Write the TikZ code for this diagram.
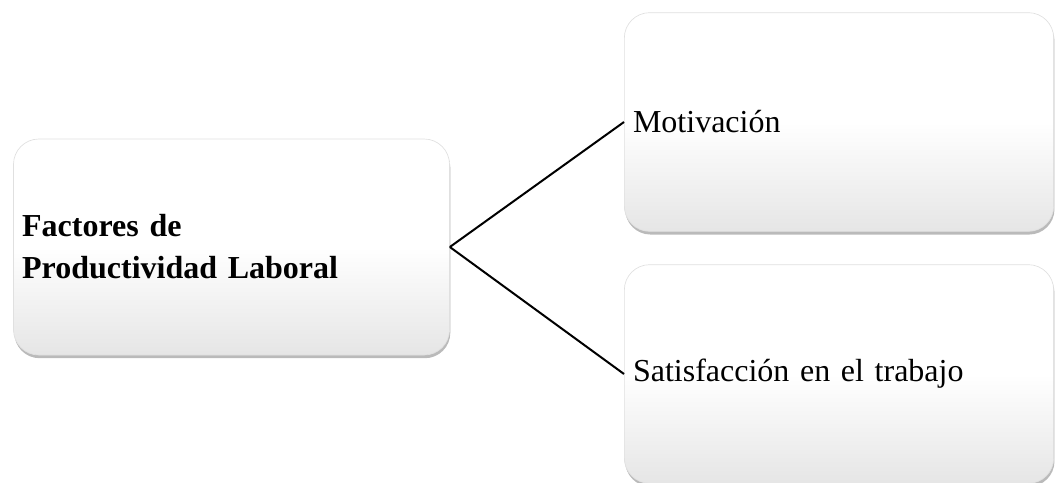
\documentclass[tikz,border=0pt]{standalone}
\usepackage{fontspec}
\setmainfont{Liberation Serif}
\usepackage{tikz}
\usetikzlibrary{shadows}
\tikzset{
  card/.style={rectangle,rounded corners=19pt,inner xsep=6.5pt,inner ysep=0pt,
    draw=black!12,line width=0.5pt,
    top color=white,bottom color=black!10,middle color=white,
    drop shadow={shadow xshift=0.6pt,shadow yshift=-2.4pt,fill=black!60,opacity=0.45},
    align=left,font=\fontsize{24}{31.5}\selectfont},
  leftcard/.style={card,text width=314pt,minimum height=162pt},
  rightcard/.style={card,text width=309pt,minimum height=164pt},
  link/.style={line width=1.5pt,black},
}
\begin{document}
\begin{tikzpicture}[x=0.75pt,y=-0.75pt]
  \useasboundingbox (0,0) rectangle (1055,482);
  % main factor
  \node[leftcard] (fac) at (231.5,247) {\bfseries Factores de\\\bfseries Productividad Laboral};
  % branches
  \node[rightcard] (mot) at (839,122) {Motivación};
  \node[rightcard] (sat) at (839,374) {Satisfacción en el trabajo};
  \draw[link] (fac.east) -- (mot.west);
  \draw[link] (fac.east) -- (sat.west);
\end{tikzpicture}
\end{document}
